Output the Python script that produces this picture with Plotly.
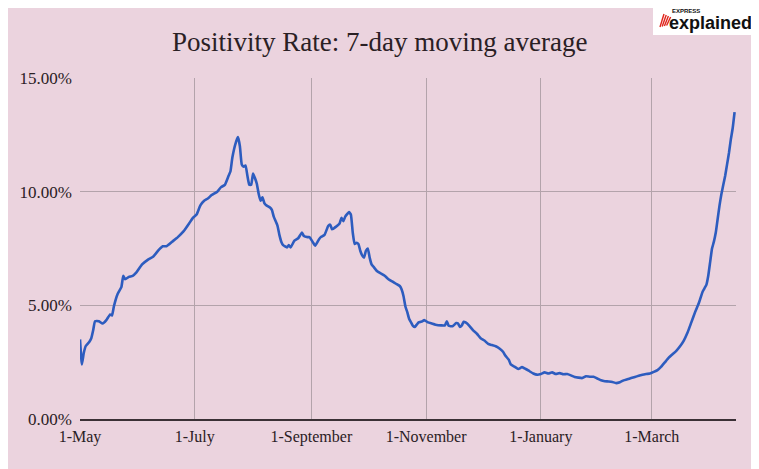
import pandas as pd
import plotly.graph_objects as go

title_text = "Positivity Rate: 7-day moving average"
start_date = "2020-05-01"

# day offsets from 1 May 2020, and 7-day moving average positivity rate (%)
day_offsets = [
    0, 1, 2, 3, 5, 6, 7, 8, 10, 12, 14, 16, 17, 18, 20, 22, 23, 24, 26, 28,
    30, 33, 36, 39, 42, 44, 46, 49, 52, 55, 58, 60, 62, 64, 66, 68, 70, 73, 75, 77,
    79, 80, 81, 83, 84, 85, 86, 87, 88, 89, 90, 91, 92, 93, 94, 95, 96, 97, 98, 99,
    101, 102, 103, 105, 106, 107, 108, 110, 111, 112, 114, 116, 118, 119, 121, 122, 124, 125, 127, 128,
    130, 132, 133, 134, 136, 138, 139, 140, 141, 143, 144, 145, 146, 147, 148, 149, 150, 151, 152, 153,
    154, 155, 156, 158, 160, 162, 164, 166, 168, 170, 171, 172, 173, 174, 175, 176, 177, 178, 179, 180,
    182, 183, 185, 187, 189, 192, 194, 195, 196, 198, 200, 201, 202, 203, 204, 205, 207, 209, 211, 213,
    215, 217, 219, 221, 223, 225, 226, 228, 229, 231, 233, 235, 237, 239, 241, 243, 245, 247, 249, 251,
    253, 255, 257, 259, 261, 263, 265, 267, 269, 271, 273, 275, 277, 279, 281, 283, 285, 287, 289, 291,
    293, 295, 297, 299, 301, 303, 305, 307, 309, 311, 313, 315, 317, 319, 321, 323, 325, 327, 329, 331,
    332, 333, 334, 335, 336, 337, 338, 339, 340, 341, 342, 343, 344, 345, 346, 347, 348,
]
positivity = [
    3.5, 2.4, 2.9, 3.2, 3.4, 3.55, 3.9, 4.3, 4.3, 4.2, 4.35, 4.6, 4.55, 4.95, 5.5, 5.8, 6.3, 6.15, 6.25, 6.3,
    6.45, 6.8, 7.0, 7.15, 7.45, 7.6, 7.6, 7.8, 8.0, 8.25, 8.6, 8.85, 9.0, 9.4, 9.6, 9.7, 9.85, 10.0, 10.2, 10.3,
    10.7, 10.9, 11.5, 12.2, 12.4, 12.0, 11.2, 11.1, 11.15, 10.7, 10.3, 10.3, 10.8, 10.6, 10.35, 9.9, 9.6, 9.75, 9.5, 9.4,
    9.3, 9.2, 8.9, 8.5, 8.1, 7.8, 7.65, 7.55, 7.65, 7.55, 7.85, 7.95, 8.2, 8.05, 8.0, 8.0, 7.75, 7.62, 7.9, 8.0,
    8.1, 8.5, 8.55, 8.35, 8.45, 8.6, 8.85, 8.7, 8.9, 9.1, 9.0, 8.2, 7.7, 7.75, 7.7, 7.4, 7.2, 7.1, 7.4, 7.5,
    7.1, 6.8, 6.7, 6.5, 6.4, 6.3, 6.15, 6.05, 5.95, 5.85, 5.7, 5.4, 4.95, 4.7, 4.4, 4.25, 4.1, 4.05, 4.15, 4.25,
    4.3, 4.35, 4.25, 4.2, 4.15, 4.12, 4.12, 4.3, 4.1, 4.08, 4.22, 4.2, 4.05, 4.12, 4.28, 4.25, 4.1, 3.9, 3.75, 3.55,
    3.45, 3.3, 3.25, 3.2, 3.1, 2.95, 2.8, 2.6, 2.4, 2.3, 2.2, 2.28, 2.2, 2.1, 2.0, 1.95, 1.98, 2.05, 2.0, 2.05,
    1.98, 2.02, 1.97, 1.98, 1.92, 1.85, 1.82, 1.8, 1.88, 1.86, 1.86, 1.78, 1.7, 1.66, 1.65, 1.63, 1.58, 1.62, 1.7, 1.75,
    1.8, 1.85, 1.9, 1.95, 1.98, 2.0, 2.07, 2.15, 2.3, 2.5, 2.7, 2.85, 3.0, 3.2, 3.45, 3.8, 4.25, 4.7, 5.1, 5.6,
    5.75, 5.9, 6.3, 6.9, 7.5, 7.8, 8.2, 8.8, 9.4, 9.9, 10.3, 10.7, 11.2, 11.7, 12.3, 12.8, 13.5,
]

x_tick_dates = ["2020-05-01", "2020-07-01", "2020-09-01", "2020-11-01", "2021-01-01", "2021-03-01"]
x_tick_labels = ["1-May", "1-July", "1-September", "1-November", "1-January", "1-March"]
y_tick_values = [0, 5, 10, 15]
y_tick_labels = ["0.00%", "5.00%", "10.00%", "15.00%"]

dates = pd.Timestamp(start_date) + pd.to_timedelta(day_offsets, unit="D")

BG = "#ebd3de"
GRID = "#b3a3ab"
SERIF = "Liberation Serif, DejaVu Serif, serif"

# page offset of the figure (body margin) is 8px; plot area in page px: x 80..736, y 78..419
OFF = 8
PX0, PX1, PY0, PY1 = 80, 736, 78, 419
W, H = 759 - OFF, 469 - OFF


def px(xp):
    return (xp - PX0) / (PX1 - PX0)


def py(yp):
    return (PY1 - yp) / (PY1 - PY0)


fig = go.Figure()
fig.add_trace(go.Scatter(
    x=dates, y=positivity, mode="lines",
    line=dict(color="#2d5cbf", width=2.6, shape="spline", smoothing=0.4),
    hoverinfo="skip", showlegend=False,
))

fig.update_layout(
    width=W, height=H,
    paper_bgcolor=BG, plot_bgcolor=BG,
    margin=dict(l=PX0 - OFF, r=W + OFF - PX1, t=PY0 - OFF, b=H + OFF - PY1, pad=0),
    xaxis=dict(
        type="date", range=["2020-05-01", "2021-04-14 18:00"],
        tickvals=x_tick_dates, ticktext=x_tick_labels,
        showgrid=True, gridcolor=GRID, gridwidth=1,
        showline=True, linecolor="#3a3035", linewidth=2,
        zeroline=False, ticks="",
        tickfont=dict(family=SERIF, size=16, color="#2a2024"),
        ticklabelstandoff=2,
    ),
    yaxis=dict(
        range=[0, 15], tickvals=y_tick_values, ticktext=y_tick_labels,
        showgrid=True, gridcolor=GRID, gridwidth=1,
        showline=False, zeroline=False, ticks="",
        tickfont=dict(family=SERIF, size=17, color="#2a2024"),
        ticklabelstandoff=7,
    ),
)

# title
fig.add_annotation(xref="paper", yref="paper", x=px(379), y=py(42), text=title_text,
                   showarrow=False, xanchor="center", yanchor="middle",
                   font=dict(family=SERIF, size=27, color="#2a2024"))

# logo badge top-right
fig.add_shape(type="rect", xref="paper", yref="paper",
              x0=px(653), x1=px(755), y0=py(35), y1=py(4),
              fillcolor="white", line=dict(width=0), layer="above")
for k in range(4):
    fig.add_shape(type="line", xref="paper", yref="paper",
                  x0=px(660 + 2.2 * k), x1=px(664 + 2.2 * k), y0=py(27 - k * 0.5), y1=py(14 + k),
                  line=dict(color="#e0241b", width=1.4), layer="above")
fig.add_annotation(xref="paper", yref="paper", x=px(670), y=py(11), text="<b>EXPRESS</b>",
                   showarrow=False, xanchor="left", yanchor="middle",
                   font=dict(family="Liberation Sans Narrow, Liberation Sans, sans-serif", size=6, color="#111"))
fig.add_annotation(xref="paper", yref="paper", x=px(667), y=py(23),
                   text="<b>explained<span style='color:#e0241b'>.</span></b>",
                   showarrow=False, xanchor="left", yanchor="middle",
                   font=dict(family="Liberation Sans Narrow, Liberation Sans, sans-serif", size=18, color="#111"))

fig.write_html("out.html")
